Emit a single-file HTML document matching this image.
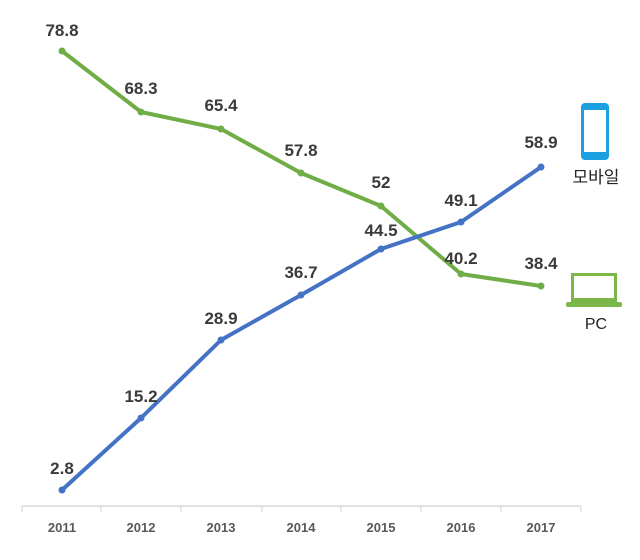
<!DOCTYPE html>
<html><head><meta charset="utf-8"><style>
html,body{margin:0;padding:0;background:#fff;}
svg{display:block;}
.v{font-family:"Liberation Sans","Noto Sans CJK KR",sans-serif;font-weight:bold;font-size:17px;fill:#3a3a3a;text-anchor:middle;}
.y{font-family:"Liberation Sans",sans-serif;font-weight:bold;font-size:13px;fill:#595959;text-anchor:middle;}
</style></head><body>
<svg width="640" height="560" viewBox="0 0 640 560">
<line x1="22" y1="506" x2="581" y2="506" stroke="#d9d9d9" stroke-width="1.5"/>
<g stroke="#d9d9d9" stroke-width="1.2">
<line x1="22" y1="506" x2="22" y2="512"/><line x1="101" y1="506" x2="101" y2="512"/><line x1="181" y1="506" x2="181" y2="512"/><line x1="262" y1="506" x2="262" y2="512"/><line x1="341" y1="506" x2="341" y2="512"/><line x1="421" y1="506" x2="421" y2="512"/><line x1="501" y1="506" x2="501" y2="512"/><line x1="581" y1="506" x2="581" y2="512"/>
</g>
<g class="y">
<text x="62" y="532">2011</text><text x="141" y="532">2012</text><text x="221" y="532">2013</text><text x="301" y="532">2014</text><text x="381" y="532">2015</text><text x="461" y="532">2016</text><text x="541" y="532">2017</text>
</g>
<polyline fill="none" stroke="#70ad47" stroke-width="4" stroke-linejoin="round" points="62,51 141,112 221,129 301,173 381,206 461,274 541,286"/>
<polyline fill="none" stroke="#4472c4" stroke-width="4" stroke-linejoin="round" points="62,490 141,418 221,340 301,295 381,249 461,222 541,167"/>
<g fill="#70ad47"><circle cx="62" cy="51" r="3.5"/><circle cx="141" cy="112" r="3.5"/><circle cx="221" cy="129" r="3.5"/><circle cx="301" cy="173" r="3.5"/><circle cx="381" cy="206" r="3.5"/><circle cx="461" cy="274" r="3.5"/><circle cx="541" cy="286" r="3.5"/></g>
<g fill="#4472c4"><circle cx="62" cy="490" r="3.5"/><circle cx="141" cy="418" r="3.5"/><circle cx="221" cy="340" r="3.5"/><circle cx="301" cy="295" r="3.5"/><circle cx="381" cy="249" r="3.5"/><circle cx="461" cy="222" r="3.5"/><circle cx="541" cy="167" r="3.5"/></g>
<g class="v">
<text x="62" y="36">78.8</text><text x="141" y="94">68.3</text><text x="221" y="111">65.4</text><text x="301" y="156">57.8</text><text x="381" y="188">52</text><text x="461" y="264">40.2</text><text x="541" y="269">38.4</text>
<text x="62" y="474">2.8</text><text x="141" y="402">15.2</text><text x="221" y="324">28.9</text><text x="301" y="278">36.7</text><text x="381" y="236">44.5</text><text x="461" y="206">49.1</text><text x="541" y="148">58.9</text>
</g>
<rect x="581" y="103" width="28" height="57" rx="4" fill="#1ba1e2"/>
<rect x="584" y="110" width="22" height="42" fill="#fff"/>
<text x="596" y="183" style="font-family:'Liberation Sans','Noto Sans CJK KR',sans-serif;font-size:17px;fill:#222;text-anchor:middle;">모바일</text>
<rect x="571" y="273" width="46" height="30" fill="#7ab648"/>
<rect x="574" y="276" width="40" height="22" fill="#fff"/>
<rect x="566" y="302" width="56" height="5" rx="2" fill="#7ab648"/>
<text x="596" y="329" style="font-family:'Liberation Sans',sans-serif;font-size:16px;fill:#222;text-anchor:middle;">PC</text>
</svg>
</body></html>
